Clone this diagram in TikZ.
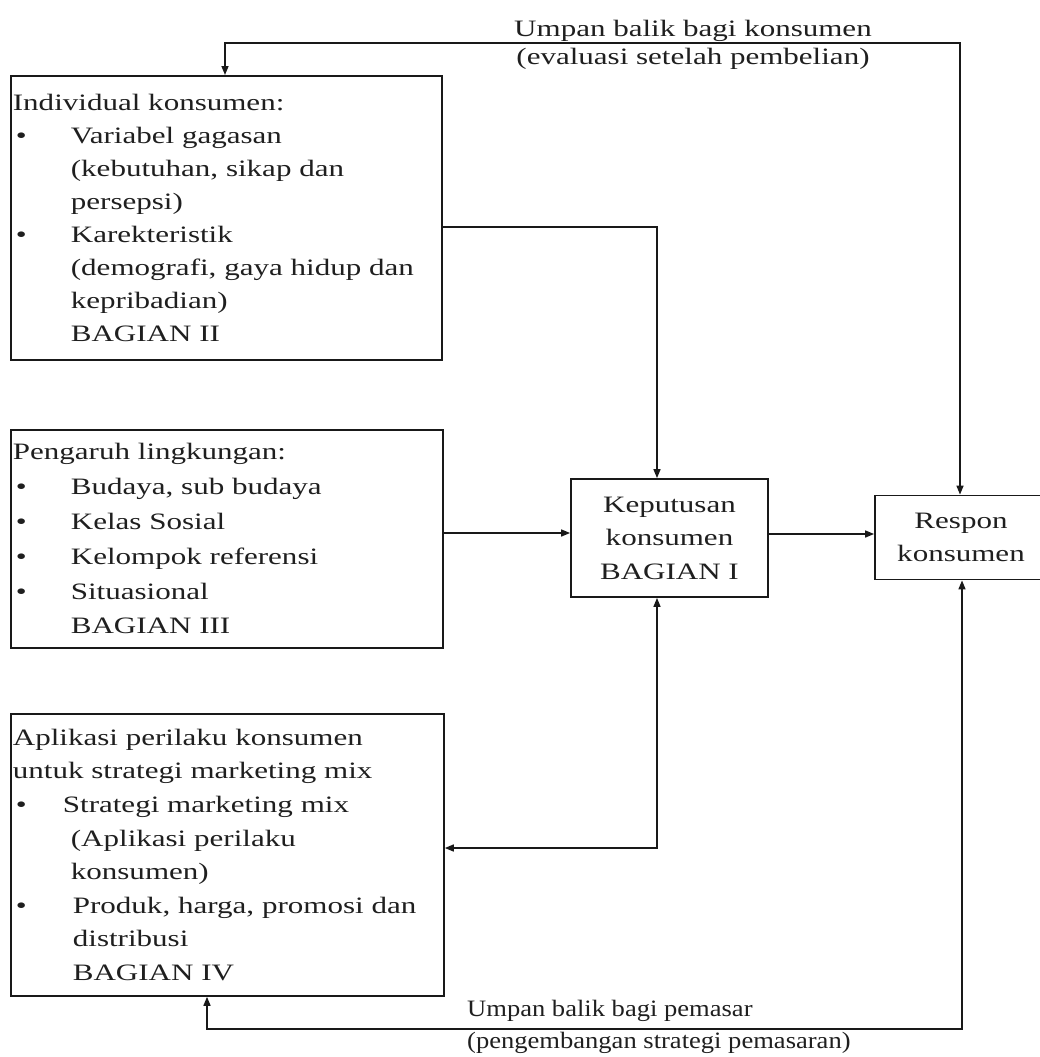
\documentclass[tikz,border=0pt]{standalone}
\usepackage{fontspec}
\setmainfont[FakeStretch=1.32]{Liberation Serif}
\newfontfamily\narrowfont[FakeStretch=1.13]{Liberation Serif}
\usetikzlibrary{arrows.meta}
\newcommand{\mybul}[1]{\makebox[#1][l]{\hspace{3bp}\textbullet}}
\newcommand{\myind}[1]{\hspace*{#1}}
\begin{document}
\begin{tikzpicture}[x=1bp,y=-1bp,
  txt/.style={font=\fontsize{23.5bp}{33bp}\selectfont, text=black!88},
  box/.style={txt, draw=black!90, line width=1.8bp, inner xsep=2bp, inner ysep=0pt, align=left, anchor=north west},
  cbox/.style={txt, draw=black!90, line width=1.8bp, inner sep=0pt, align=center},
  arr/.style={-{Triangle[length=9bp,width=7bp]}, line width=1.5bp, draw=black!90},
  both/.style={{Triangle[length=9bp,width=7bp]}-{Triangle[length=9bp,width=7bp]}, line width=1.5bp, draw=black!90}]
\useasboundingbox (0,0) rectangle (1040,1057);
\fill[white] (0,0) rectangle (1040,1057);

% boxes
\node[box, minimum width=431bp, minimum height=284bp, text width=427bp] (indiv) at (10,75) {%
Individual konsumen:\\
\mybul{58bp}Variabel gagasan\\
\myind{58bp}(kebutuhan, sikap dan\\
\myind{58bp}persepsi)\\
\mybul{58bp}Karekteristik\\
\myind{58bp}(demografi, gaya hidup dan\\
\myind{58bp}kepribadian)\\
\myind{58bp}BAGIAN II};

\node[box, font=\fontsize{23.5bp}{34.8bp}\selectfont, minimum width=432bp, minimum height=218bp, text width=428bp] (env) at (10,429) {%
Pengaruh lingkungan:\\
\mybul{58bp}Budaya, sub budaya\\
\mybul{58bp}Kelas Sosial\\
\mybul{58bp}Kelompok referensi\\
\mybul{58bp}Situasional\\
\myind{58bp}BAGIAN III};

\node[box, font=\fontsize{23.5bp}{33.6bp}\selectfont, minimum width=433bp, minimum height=282bp, text width=429bp] (app) at (10,713) {%
Aplikasi perilaku konsumen\\
untuk strategi marketing mix\\
\mybul{50bp}Strategi marketing mix\\
\myind{58bp}(Aplikasi perilaku\\
\myind{58bp}konsumen)\\
\mybul{60bp}Produk, harga, promosi dan\\
\myind{60bp}distribusi\\
\myind{60bp}BAGIAN IV};

\node[cbox, font=\fontsize{23.5bp}{33.5bp}\selectfont, minimum width=197bp, minimum height=118bp] (kep) at (669.5,538) {Keputusan\\konsumen\\BAGIAN I};

\node[cbox, minimum width=172bp, minimum height=84bp] (resp) at (961,537.5) {Respon\\konsumen};

% labels
\node[txt, font=\fontsize{23.5bp}{28bp}\selectfont, align=center, inner sep=0pt] (lab1) at (693,45) {Umpan balik bagi konsumen\\(evaluasi setelah pembelian)};
\node[txt, font=\fontsize{23.5bp}{32bp}\narrowfont, align=left, inner sep=0pt, anchor=west] (lab2) at (467,1027) {Umpan balik bagi pemasar\\(pengembangan strategi pemasaran)};

% connector bend points
\coordinate (tA) at (225,43);
\coordinate (tE) at (960,43);
\coordinate (bA) at (657,227);
\coordinate (mB) at (500,533);
\coordinate (mD) at (820,534);
\coordinate (bC) at (657,848);
\coordinate (bR) at (962,1029);
\coordinate (bL) at (207,1029);

% connectors
\draw[both] (indiv.north -| tA) -- (tA) -- (tE) -- (resp.north -| tE);
\draw[arr] (indiv.east |- bA) -- (bA) -- (kep.north -| bA);
\draw[arr] (env.east |- mB) -- (kep.west |- mB);
\draw[arr] (kep.east |- mD) -- (resp.west |- mD);
\draw[both] (kep.south -| bC) -- (bC) -- (app.east |- bC);
\draw[both] (resp.south -| bR) -- (bR) -- (bL) -- (app.south -| bL);
\end{tikzpicture}
\end{document}
